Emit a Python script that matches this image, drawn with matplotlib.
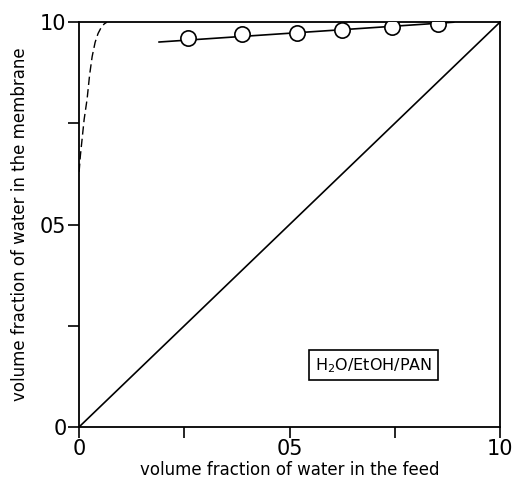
import matplotlib.pyplot as plt
from matplotlib.ticker import FixedLocator

# ---- data ----
feed_pts = [0.259, 0.387, 0.518, 0.625, 0.743, 0.853]
memb_pts = [0.960, 0.970, 0.973, 0.980, 0.988, 0.995]

fit_x = [0.19, 0.89]
fit_y = [0.951, 1.0]

# dashed curve near the y axis
dash_x = [0.0, 0.003, 0.007, 0.012, 0.019, 0.025, 0.031, 0.038, 0.045, 0.053, 0.060, 0.066]
dash_y = [0.63, 0.67, 0.71, 0.76, 0.81, 0.87, 0.915, 0.950, 0.972, 0.988, 0.996, 1.0]

diag_x = [0.0, 1.0]
diag_y = [0.0, 1.0]

major_ticks = [0.0, 0.5, 1.0]
minor_ticks = [0.25, 0.75]
tick_labels = ["0", "05", "10"]

fig = plt.figure(figsize=(5.17, 4.93), dpi=100)
ax = fig.add_axes([0.153, 0.134, 0.814, 0.821])

ax.plot(diag_x, diag_y, color="black", lw=1.2)
ax.plot(dash_x, dash_y, color="black", lw=1.0, ls=(0, (6, 3)))
ax.plot(fit_x, fit_y, color="black", lw=1.2)
ax.plot(feed_pts, memb_pts, ls="none", marker="o", ms=11,
        mfc="white", mec="black", mew=1.2, zorder=3)

ax.set_xlim(0, 1)
ax.set_ylim(0, 1)

for axis in (ax.xaxis, ax.yaxis):
    axis.set_major_locator(FixedLocator(major_ticks))
    axis.set_minor_locator(FixedLocator(minor_ticks))
ax.set_xticklabels(tick_labels, fontsize=15)
ax.set_yticklabels(tick_labels, fontsize=15)
ax.tick_params(which="both", direction="out", length=8, width=1.2, pad=1)

for s in ax.spines.values():
    s.set_linewidth(1.3)

ax.set_xlabel("volume fraction of water in the feed", fontsize=12, labelpad=1)
ax.set_ylabel("volume fraction of water in the membrane", fontsize=12, labelpad=8)

ax.text(0.56, 0.152, r"H$_2$O/EtOH/PAN", fontsize=11.5, transform=ax.transAxes,
        ha="left", va="center",
        bbox=dict(boxstyle="square,pad=0.35", fc="white", ec="black", lw=1.2))

fig.savefig("out.png", dpi=100)
